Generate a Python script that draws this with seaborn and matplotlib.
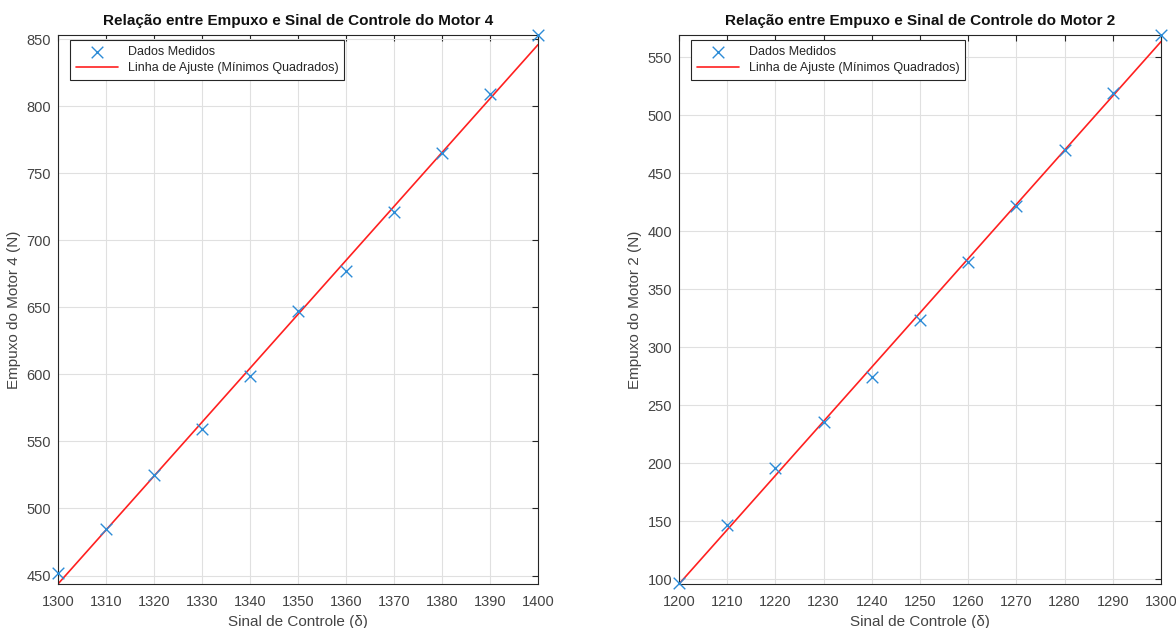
import numpy as np
import pandas as pd
import matplotlib
matplotlib.use("Agg")
import matplotlib.pyplot as plt
import seaborn as sns

# Data
sinal_m4 = [1300, 1310, 1320, 1330, 1340, 1350, 1360, 1370, 1380, 1390, 1400]
empuxo_m4 = [452, 485, 525, 559, 599, 647, 677, 721, 765, 809, 853]
sinal_m2 = [1200, 1210, 1220, 1230, 1240, 1250, 1260, 1270, 1280, 1290, 1300]
empuxo_m2 = [97, 147, 196, 235, 274, 323, 373, 422, 470, 519, 569]

titles = ["Relação entre Empuxo e Sinal de Controle do Motor 4",
          "Relação entre Empuxo e Sinal de Controle do Motor 2"]
ylabels = ["Empuxo do Motor 4 (N)", "Empuxo do Motor 2 (N)"]
xlabel = "Sinal de Controle (δ)"
legend_labels = ["Dados Medidos", "Linha de Ajuste (Mínimos Quadrados)"]
yticks_m4 = list(range(450, 851, 50))
yticks_m2 = list(range(100, 551, 50))

sns.set_theme(style="white")
plt.rcParams['font.family'] = ['Liberation Sans', 'DejaVu Sans']

fig = plt.figure(figsize=(11.76, 6.28), dpi=100)
ax1 = fig.add_axes([0.0493, 0.0701, 0.4082, 0.8742])
ax2 = fig.add_axes([0.5774, 0.0701, 0.4099, 0.8742])

axcol = "#262626"
for ax, xs, ys, title, ylabel, yt in [
    (ax1, sinal_m4, empuxo_m4, titles[0], ylabels[0], yticks_m4),
    (ax2, sinal_m2, empuxo_m2, titles[1], ylabels[1], yticks_m2),
]:
    xs_a = np.array(xs, dtype=float)
    ys_a = np.array(ys, dtype=float)
    coef = np.polyfit(xs_a, ys_a, 1)
    xfit = np.linspace(xs_a.min(), xs_a.max(), 100)
    yfit = np.polyval(coef, xfit)
    df = pd.DataFrame({"x": xs_a, "y": ys_a})
    dfit = pd.DataFrame({"x": xfit, "y": yfit})
    sns.scatterplot(data=df, x="x", y="y", ax=ax, marker="x", color="#2c8bd6",
                    s=70, linewidth=1.0, label=legend_labels[0], zorder=3,
                    clip_on=False)
    sns.lineplot(data=dfit, x="x", y="y", ax=ax, color="#ff2020", linewidth=1.2,
                 label=legend_labels[1], zorder=2)
    ax.set_xlim(xs_a.min(), xs_a.max())
    ax.set_ylim(min(ys_a.min(), yfit.min()), max(ys_a.max(), yfit.max()))
    ax.set_xticks(xs)
    ax.set_yticks(yt)
    ax.grid(True, color="#e0e0e0", linewidth=0.8)
    ax.set_axisbelow(True)
    ax.tick_params(direction="in", length=4, width=0.8, colors=axcol,
                   labelsize=10.5, top=True, right=True, labelcolor="#444444")
    ax.tick_params(axis="x", pad=8)
    ax.tick_params(axis="y", pad=5)
    for sp in ax.spines.values():
        sp.set_color(axcol)
        sp.set_linewidth(0.8)
    ax.set_title(title, fontsize=11, fontweight="bold", color="#111111", pad=7)
    ax.set_xlabel(xlabel, fontsize=11, color="#444444", labelpad=4)
    ax.set_ylabel(ylabel, fontsize=11, color="#444444", labelpad=4)
    leg = ax.legend(loc="upper left", fontsize=9, frameon=True, fancybox=False,
                    framealpha=1, edgecolor=axcol, borderaxespad=0.0,
                    handlelength=3.4, borderpad=0.45, labelspacing=0.35,
                    bbox_to_anchor=(0.025, 0.99))
    leg.get_frame().set_linewidth(0.8)

fig.savefig("out.png", dpi=100)
